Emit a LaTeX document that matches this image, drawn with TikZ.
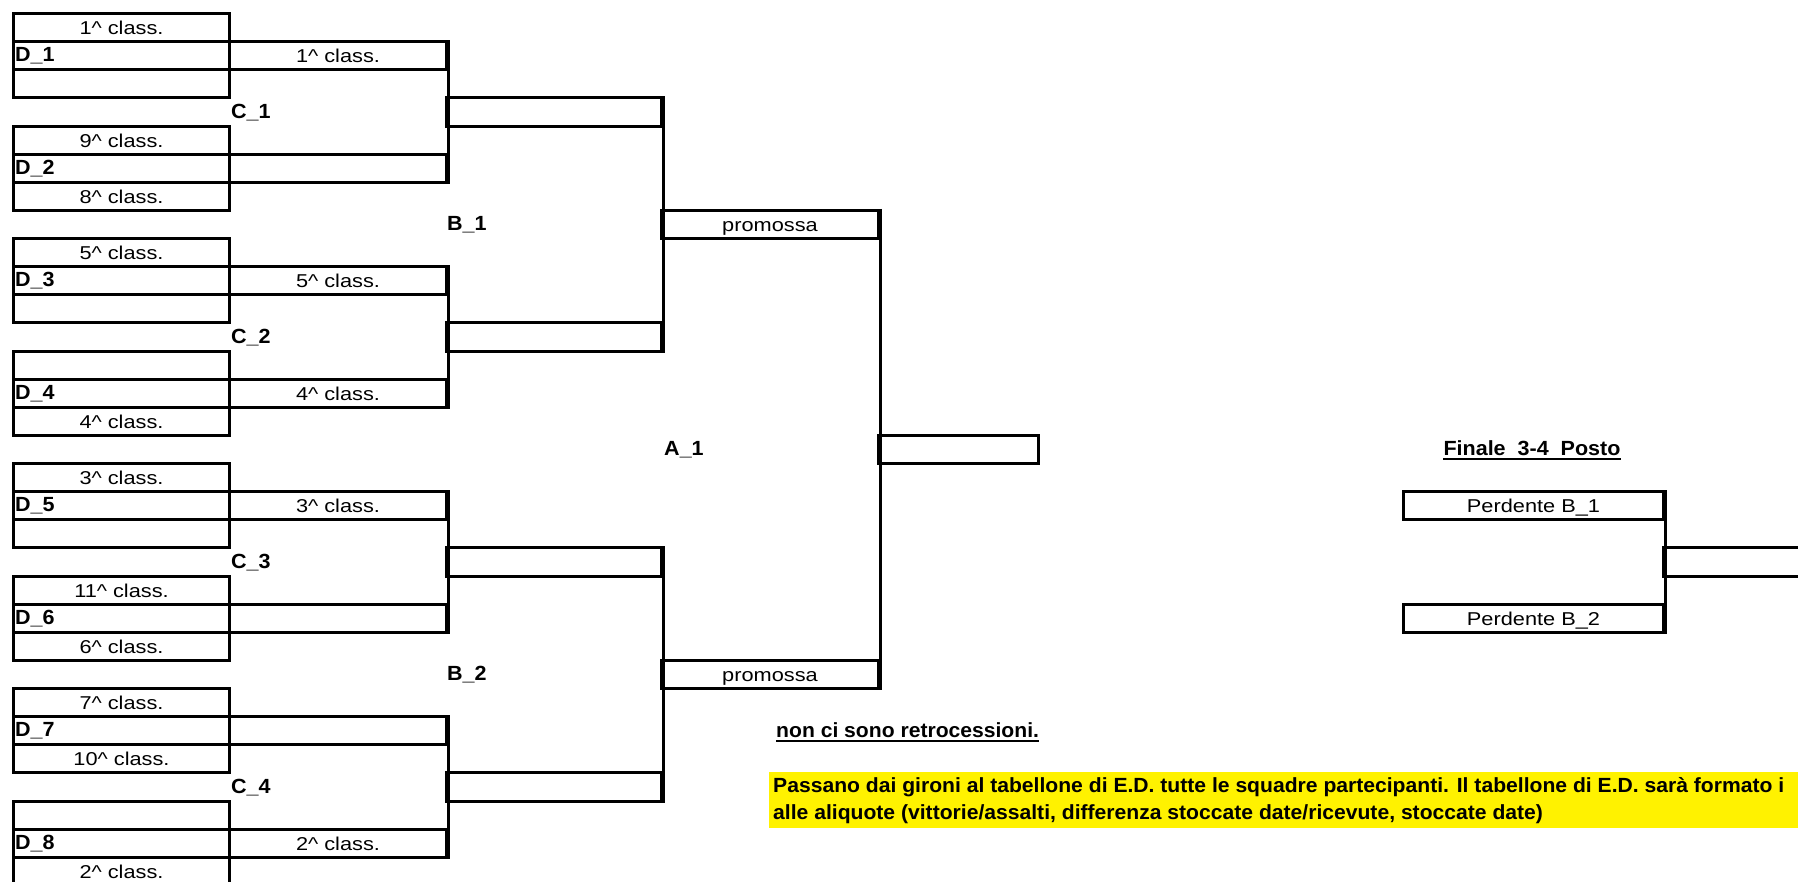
\documentclass[tikz,border=0pt]{standalone}
\usepackage{fontspec}
\setmainfont{Liberation Sans}
\newfontfamily\regfont[FakeStretch=1.17]{Liberation Sans}
\newfontfamily\bldfont[FakeStretch=1.05]{Liberation Sans}
\newfontfamily\notefont[FakeStretch=1.03]{Liberation Sans}
\newcommand\klass[1]{#1\textasciicircum{} class.}
\begin{document}
\begin{tikzpicture}[x=1pt,y=-1pt,
  box/.style={draw, line width=3pt, inner sep=0pt, anchor=north west,
    minimum height=28.125pt, text height=14pt, text depth=0pt,
    font=\regfont\fontsize{18.6}{22}\selectfont},
  lbl/.style={inner sep=0pt, anchor=base west,
    font=\bldfont\bfseries\fontsize{20.5}{24}\selectfont},
  notetext/.style={inner sep=0pt, anchor=base west,
    font=\notefont\bfseries\fontsize{20.5}{24}\selectfont},
  link/.style={line width=3pt},
  uline/.style={line width=2.5pt}]
\useasboundingbox (0,0) rectangle (1798,881);
\clip (0,0) rectangle (1798,881);

% first column (D rounds)
\foreach \i/\ta/\tc in {1/\klass{1}/, 2/\klass{9}/\klass{8}, 3/\klass{5}/,
    4//\klass{4}, 5/\klass{3}/, 6/\klass{11}/\klass{6},
    7/\klass{7}/\klass{10}, 8//\klass{2}} {
  \pgfmathsetmacro\ya{12+(4*(\i-1))*28.125}
  \pgfmathsetmacro\yb{\ya+28.125}
  \pgfmathsetmacro\yc{\ya+2*28.125}
  \pgfmathsetmacro\yl{\yb+21.6}
  \node[box, minimum width=216pt] (d\i-a) at (12,\ya) {\ta};
  \node[box, minimum width=216pt] (d\i-b) at (12,\yb) {};
  \node[box, minimum width=216pt] (d\i-c) at (12,\yc) {\tc};
  \node[lbl] (dl\i) at (15,\yl) {D\_\i};
}

% second column (C rounds): rows 8k-6 and 8k-2, label row 8k-4
\foreach \k/\ta/\tb in {1/\klass{1}/, 2/\klass{5}/\klass{4}, 3/\klass{3}/, 4//\klass{2}} {
  \pgfmathsetmacro\ya{12+(8*\k-7)*28.125}
  \pgfmathsetmacro\yb{12+(8*\k-3)*28.125}
  \pgfmathsetmacro\yl{12+(8*\k-4)*28.125-6.5}
  \node[box, minimum width=217pt] (c\k-a) at (228,\ya) {\ta};
  \node[box, minimum width=217pt] (c\k-b) at (228,\yb) {\tb};
  \draw[link] (c\k-a.north east) -- (c\k-b.south east);
  \node[lbl] (cl\k) at (231,\yl) {C\_\k};
}

% third column (B rounds): rows 16m-12 and 16m-4, label row 16m-8
\foreach \m in {1,2} {
  \pgfmathsetmacro\ya{12+(16*\m-13)*28.125}
  \pgfmathsetmacro\yb{12+(16*\m-5)*28.125}
  \pgfmathsetmacro\yl{12+(16*\m-8)*28.125-6.5}
  \node[box, minimum width=215pt] (b\m-a) at (445,\ya) {};
  \node[box, minimum width=215pt] (b\m-b) at (445,\yb) {};
  \draw[link] (b\m-a.north east) -- (b\m-b.south east);
  \node[lbl] (bl\m) at (447,\yl) {B\_\m};
}

% fourth column (promossa) and final
\node[box, minimum width=217pt] (p1) at (660,208.875) {promossa};
\node[box, minimum width=217pt] (p2) at (660,658.875) {promossa};
\draw[link] (p1.north east) -- (p2.south east);
\node[box, minimum width=160pt] (fin) at (877,433.875) {};
\node[lbl] (al1) at (664,455.5) {A\_1};

% Finale 3-4 Posto
\node[lbl, anchor=base] (hdr) at (1532,455.5) {Finale\ \ 3-4\ \ Posto};
\draw[uline] ([yshift=-3.5pt]hdr.base west) -- ([yshift=-3.5pt]hdr.base east);
\node[box, minimum width=260pt] (q1) at (1402,490.125) {Perdente B\_1};
\node[box, minimum width=260pt] (q2) at (1402,602.625) {Perdente B\_2};
\draw[link] (q1.north east) -- (q2.south east);
\node[box, minimum width=160pt] (fin34) at (1662,546.375) {};

% notes
\node[notetext] (nr) at (776,737) {non ci sono retrocessioni.};
\draw[uline] ([yshift=-4pt]nr.base west) -- ([yshift=-4pt]nr.base east);
\node[fill=yellow, inner sep=0pt, anchor=north west, minimum width=1041pt,
  minimum height=56.25pt] (note) at (769,771.375) {};
\node[notetext] (n1) at (773,792.7) {Passano dai gironi al tabellone di E.D. tutte le squadre partecipanti. Il tabellone di E.D. sarà formato i};
\node[notetext] (n2) at (773,819.5) {alle aliquote (vittorie/assalti, differenza stoccate date/ricevute, stoccate date)};
\end{tikzpicture}
\end{document}
